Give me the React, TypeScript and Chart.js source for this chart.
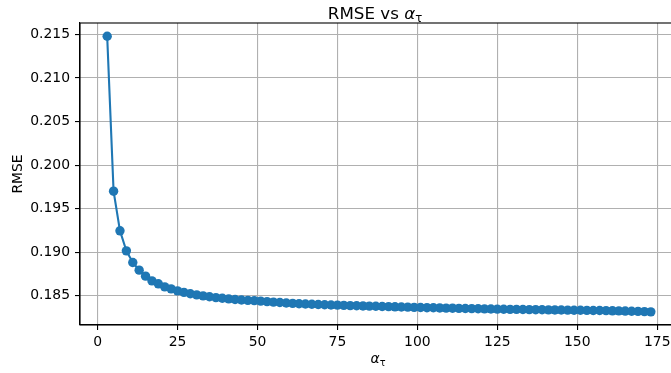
import React, { useEffect, useRef } from "react";
import { Chart, registerables } from "chart.js";

Chart.register(...registerables);

const alphaTau: number[] = [
  3, 5, 7, 9, 11, 13, 15, 17, 19, 21, 23, 25, 27, 29, 31, 33, 35, 37, 39, 41,
  43, 45, 47, 49, 51, 53, 55, 57, 59, 61, 63, 65, 67, 69, 71, 73, 75, 77, 79, 81,
  83, 85, 87, 89, 91, 93, 95, 97, 99, 101, 103, 105, 107, 109, 111, 113, 115, 117, 119, 121,
  123, 125, 127, 129, 131, 133, 135, 137, 139, 141, 143, 145, 147, 149, 151, 153, 155, 157, 159, 161,
  163, 165, 167, 169, 171, 173,
];

const rmse: number[] = [
  0.2148, 0.1970, 0.19245, 0.19015, 0.18881, 0.18793, 0.18724, 0.1867, 0.18636, 0.18601,
  0.18578, 0.18555, 0.18538, 0.18522, 0.18509, 0.18497, 0.18487, 0.18478, 0.1847, 0.18463,
  0.18456, 0.1845, 0.18446, 0.18443, 0.18437, 0.18431, 0.18426, 0.18421, 0.18416, 0.18411,
  0.18407, 0.18404, 0.18401, 0.18398, 0.18396, 0.18393, 0.18391, 0.18389, 0.18386, 0.18384,
  0.18382, 0.1838, 0.18378, 0.18376, 0.18374, 0.18372, 0.1837, 0.18368, 0.18366, 0.18364,
  0.18362, 0.18361, 0.18359, 0.18357, 0.18356, 0.18354, 0.18353, 0.18351, 0.1835, 0.18348,
  0.18347, 0.18345, 0.18344, 0.18343, 0.18342, 0.18341, 0.1834, 0.18339, 0.18338, 0.18337,
  0.18336, 0.18335, 0.18334, 0.18333, 0.18332, 0.18331, 0.1833, 0.18329, 0.18328, 0.18326,
  0.18325, 0.18323, 0.18321, 0.18319, 0.18317, 0.18314,
];

const xTicks: number[] = [0, 25, 50, 75, 100, 125, 150, 175];
const yTicks: number[] = [0.185, 0.19, 0.195, 0.2, 0.205, 0.21, 0.215];

const FONT = "'DejaVu Sans', sans-serif";
const BLUE = "#1f77b4";

const textPlugin = {
  id: "mplText",
  afterDraw(chart: any) {
    const ctx = chart.ctx as CanvasRenderingContext2D;
    const ca = chart.chartArea;
    const cx = (ca.left + ca.right) / 2;
    ctx.save();
    // frame
    ctx.strokeStyle = "#000";
    ctx.lineWidth = 1.1;
    ctx.strokeRect(ca.left, ca.top, ca.right - ca.left, ca.bottom - ca.top);
    ctx.fillStyle = "#000";
    ctx.textBaseline = "alphabetic";
    ctx.textAlign = "left";
    const drawMath = (prefix: string, size: number, baseline: number, center: number) => {
      ctx.font = `${size}px ${FONT}`;
      const w1 = ctx.measureText(prefix).width;
      ctx.font = `italic ${size}px ${FONT}`;
      const w2 = ctx.measureText("α").width;
      ctx.font = `${size * 0.7}px ${FONT}`;
      const w3 = ctx.measureText("τ").width;
      let x = center - (w1 + w2 + w3) / 2;
      ctx.font = `${size}px ${FONT}`;
      ctx.fillText(prefix, x, baseline);
      x += w1;
      ctx.font = `italic ${size}px ${FONT}`;
      ctx.fillText("α", x, baseline);
      x += w2;
      ctx.font = `${size * 0.7}px ${FONT}`;
      ctx.fillText("τ", x, baseline + size * 0.2);
    };
    drawMath("RMSE vs ", 16.7, 19, cx - 4);
    drawMath("", 13.9, 363, cx - 1);
    // y label
    ctx.translate(18, (ca.top + ca.bottom) / 2);
    ctx.rotate(-Math.PI / 2);
    ctx.textAlign = "center";
    ctx.textBaseline = "middle";
    ctx.font = `13.9px ${FONT}`;
    ctx.fillText("RMSE", 0, 0);
    ctx.restore();
  },
};

export default function App() {
  const ref = useRef<HTMLCanvasElement | null>(null);
  useEffect(() => {
    if (!ref.current) return;
    const chart = new Chart(ref.current, {
      type: "scatter",
      data: {
        datasets: [
          {
            data: alphaTau.map((x, i) => ({ x, y: rmse[i] })),
            showLine: true,
            borderColor: BLUE,
            backgroundColor: BLUE,
            borderWidth: 2.1,
            pointRadius: 4.7,
            pointBorderWidth: 0,
            pointBackgroundColor: BLUE,
            pointHoverRadius: 4.7,
          },
        ],
      },
      options: {
        animation: false,
        responsive: false,
        events: [],
        layout: { padding: { left: 0, top: 23, right: 12, bottom: 0 } },
        plugins: {
          legend: { display: false },
          tooltip: { enabled: false },
          title: { display: false },
        },
        scales: {
          x: {
            type: "linear",
            min: -5.5,
            max: 181.5,
            afterBuildTicks: (s: any) => {
              s.ticks = xTicks.map((v) => ({ value: v }));
            },
            afterFit: (s: any) => {
              s.height = 48;
            },
            grid: {
              color: "#b0b0b0",
              lineWidth: 1.1,
              tickColor: "#000",
              tickLength: 5,
              drawTicks: true,
            },
            border: { display: true, color: "#000", width: 1.1 },
            ticks: {
              color: "#000",
              font: { family: FONT, size: 13.9 },
              padding: 4,
              maxRotation: 0,
              autoSkip: false,
              callback: (v: any) => String(v),
            },
          },
          y: {
            type: "linear",
            min: 0.18163,
            max: 0.21632,
            afterBuildTicks: (s: any) => {
              s.ticks = yTicks.map((v) => ({ value: v }));
            },
            afterFit: (s: any) => {
              s.width = 80;
            },
            grid: {
              color: "#b0b0b0",
              lineWidth: 1.1,
              tickColor: "#000",
              tickLength: 5,
              drawTicks: true,
            },
            border: { display: true, color: "#000", width: 1.1 },
            ticks: {
              color: "#000",
              font: { family: FONT, size: 13.9 },
              padding: 5,
              autoSkip: false,
              callback: (v: any) => Number(v).toFixed(3),
            },
          },
        },
      },
      plugins: [textPlugin],
    });
    return () => chart.destroy();
  }, []);
  return (
    <div
      style={{
        position: "fixed",
        left: 0,
        top: 0,
        width: 671,
        height: 373,
        overflow: "hidden",
        background: "#fff",
      }}
    >
      <canvas ref={ref} width={690} height={373} style={{ display: "block" }} />
    </div>
  );
}
